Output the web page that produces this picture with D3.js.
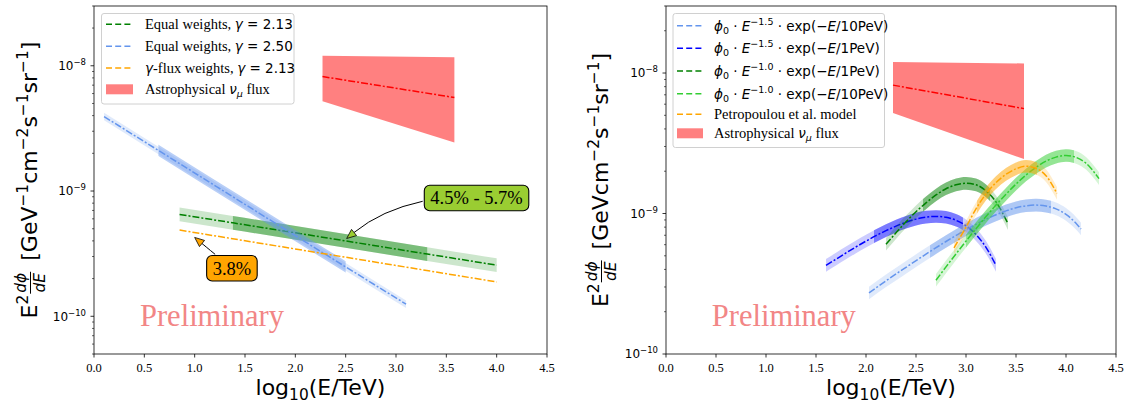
<!DOCTYPE html>
<html><head><meta charset="utf-8">
<script src="https://cdn.jsdelivr.net/npm/d3@7"></script>
<style>body{margin:0;background:#fff}svg{display:block}</style>
</head><body>
<svg id="c" width="1126" height="408"></svg>
<script>
// ---------------- DATA ----------------
const xTicks = [0, 0.5, 1, 1.5, 2, 2.5, 3, 3.5, 4, 4.5];
const xTickLabels = ["0.0","0.5","1.0","1.5","2.0","2.5","3.0","3.5","4.0","4.5"];
const yMajorTicks = [1e-10, 1e-9, 1e-8];
const yMajorLabels = ["\u221210", "\u22129", "\u22128"];
const leftYDomain = [5e-11, 3e-8];
const rightYDomain = [1e-10, 3e-8];

// Astrophysical numu flux band (both panels)
const astroX = [2.27, 3.58];
const astroUpper = [1.2e-8, 1.17e-8];
const astroLower = [5.2e-9, 2.44e-9];
const astroCentral = [8.2e-9, 5.58e-9];

// Left panel lines
const eqw213X = [0.85, 1.38, 3.31, 4.0];
const eqw213Y = [6.5e-10, 5.57e-10, 3.14e-10, 2.56e-10];
const eqw213Range = [1.38, 3.31];
const eqw213Err = 0.055;      // band half-width, decades
const eqw250X = [0.1, 0.64, 2.5, 3.1];
const eqw250Y = [3.93e-9, 2.11e-9, 2.48e-10, 1.25e-10];
const eqw250Range = [0.64, 2.5];
const eqw250Err = 0.03;
const eqw250ErrDark = 0.045;
const gfluxX = [0.85, 4.0];
const gfluxY = [4.88e-10, 1.88e-10];

// Right panel curves
const c15_10X = [2.03, 2.2, 2.4, 2.6, 2.8, 3.0, 3.2, 3.4, 3.5, 3.6, 3.7, 3.8, 3.9, 4.0, 4.1, 4.15];
const c15_10Y = [2.72e-10, 3.32e-10, 4.14e-10, 5.14e-10, 6.32e-10, 7.67e-10, 9.1e-10, 1.044e-9, 1.10e-9, 1.135e-9, 1.148e-9, 1.13e-9, 1.08e-9, 9.86e-10, 8.53e-10, 7.76e-10];
const c15_10Range = [2.64, 3.85];
const c15_1X = [1.6, 1.7, 1.8, 1.9, 2.0, 2.1, 2.2, 2.3, 2.4, 2.5, 2.6, 2.7, 2.8, 2.9, 3.0, 3.1, 3.2, 3.3];
const c15_1Y = [4.27e-10, 4.73e-10, 5.24e-10, 5.79e-10, 6.36e-10, 6.96e-10, 7.55e-10, 8.13e-10, 8.67e-10, 9.12e-10, 9.42e-10, 9.53e-10, 9.40e-10, 8.95e-10, 8.18e-10, 7.08e-10, 5.74e-10, 4.27e-10];
const c15_1Range = [2.08, 2.97];
const c10_1X = [2.2, 2.3, 2.4, 2.5, 2.6, 2.7, 2.8, 2.9, 3.0, 3.1, 3.2, 3.3, 3.42];
const c10_1Y = [6.04e-10, 7.3e-10, 8.73e-10, 1.03e-9, 1.19e-9, 1.355e-9, 1.5e-9, 1.6e-9, 1.64e-9, 1.6e-9, 1.45e-9, 1.21e-9, 8.47e-10];
const c10_1Range = [2.57, 3.24];
const c10_10X = [2.7, 2.8, 2.9, 3.0, 3.1, 3.2, 3.3, 3.4, 3.5, 3.6, 3.7, 3.8, 3.9, 4.0, 4.1, 4.2, 4.33];
const c10_10Y = [3.35e-10, 4.17e-10, 5.16e-10, 6.36e-10, 7.8e-10, 9.51e-10, 1.15e-9, 1.37e-9, 1.62e-9, 1.88e-9, 2.13e-9, 2.36e-9, 2.52e-9, 2.59e-9, 2.51e-9, 2.28e-9, 1.77e-9];
const c10_10Range = [3.0, 4.08];
const petroX = [2.88, 3.0, 3.1, 3.2, 3.3, 3.4, 3.5, 3.6, 3.7, 3.8, 3.91];
const petroY = [5.7e-10, 8.0e-10, 1.08e-9, 1.38e-9, 1.66e-9, 1.9e-9, 2.08e-9, 2.17e-9, 2.1e-9, 1.86e-9, 1.39e-9];
const petroRange = [3.11, 3.71];
const rightErr = 0.045;

// Annotations (left panel)
const annoText = ["4.5% - 5.7%", "3.8%"];
const annoBoxX = [3.80, 1.37];
const annoBoxY = [8.8e-10, 2.42e-10];
const annoTipX = [2.51, 1.00];
const annoTipY = [4.18e-10, 4.26e-10];

const prelimX = [0.457, 0.458];
const prelimY = [8.3e-11, 1.58e-10];

// ---------------- STYLE / LAYOUT ----------------
const SANS = "'DejaVu Sans', sans-serif";
const SERIF = "'Liberation Serif','Times New Roman',serif";
const svg = d3.select("#c");
const panelTop = 6, panelBottom = 354;
const L = {x0: 94, x1: 547};
const R = {x0: 666, x1: 1116};

function richText(parent, x, y, segs, base) {
  const t = parent.append("text").attr("x", x).attr("y", y)
    .attr("font-family", base.family || SANS).attr("font-size", base.size).attr("fill", base.fill || "#000");
  if (base.anchor) t.attr("text-anchor", base.anchor);
  let prev = 0;
  segs.forEach(s => {
    const sh = s.shift || 0;
    const ts = t.append("tspan").text(s.t).attr("dy", (prev - sh));
    prev = sh;
    if (s.size) ts.attr("font-size", s.size);
    if (s.italic) ts.attr("font-style", "italic");
    if (s.family) ts.attr("font-family", s.family);
  });
  return t;
}

function makePanel(P, yDomain) {
  const x = d3.scaleLinear().domain([0, 4.5]).range([P.x0, P.x1]);
  const y = d3.scaleLog().domain(yDomain).range([panelBottom, panelTop]);
  return {x, y};
}

function drawAxes(P, sc, yDomain) {
  const g = svg.append("g");
  xTicks.forEach((v, i) => {
    const px = sc.x(v);
    g.append("line").attr("x1", px).attr("x2", px).attr("y1", panelBottom).attr("y2", panelBottom + 3.5)
      .attr("stroke", "#000").attr("stroke-width", 0.8);
    g.append("text").attr("x", px).attr("y", 372).attr("text-anchor", "middle")
      .attr("font-family", SERIF).attr("font-size", 12.5).text(xTickLabels[i]);
  });
  const minors = [];
  for (let e = -11; e <= -8; e++) for (let k = 2; k <= 9; k++) {
    const v = k * Math.pow(10, e);
    if (v >= yDomain[0] * 0.999 && v <= yDomain[1] * 1.001) minors.push(v);
  }
  minors.forEach(v => {
    g.append("line").attr("x1", P.x0 - 2).attr("x2", P.x0).attr("y1", sc.y(v)).attr("y2", sc.y(v))
      .attr("stroke", "#000").attr("stroke-width", 0.6);
  });
  yMajorTicks.forEach((v, i) => {
    if (v < yDomain[0] * 0.999) return;
    const py = sc.y(v);
    g.append("line").attr("x1", P.x0 - 3.5).attr("x2", P.x0).attr("y1", py).attr("y2", py)
      .attr("stroke", "#000").attr("stroke-width", 0.8);
    richText(g, P.x0 - 8, py + 4.4, [{t: "10"}, {t: yMajorLabels[i], size: 8.5, shift: 5}], {size: 12, anchor: "end"});
  });
  svg.append("rect").attr("x", P.x0).attr("y", panelTop).attr("width", P.x1 - P.x0).attr("height", panelBottom - panelTop)
    .attr("fill", "none").attr("stroke", "#000").attr("stroke-width", 0.8);
  richText(svg, (P.x0 + P.x1) / 2, 395, [{t: "log"}, {t: "10", size: 15.4, shift: -5}, {t: "(E/TeV)"}], {size: 22, anchor: "middle"});
}

function drawYLabel(cx, cy, withGeVExp) {
  const g0 = svg.append("g").attr("transform", `translate(${cx},${cy}) rotate(-90)`);
  const g = g0.append("g");
  const p1 = richText(g, 0, 0, [{t: "E"}, {t: "2", size: 15.4, shift: 9}], {size: 22});
  let w = p1.node().getComputedTextLength() + 1;
  const num = g.append("text").attr("y", -11).attr("font-family", SANS).attr("font-size", 15.4)
    .attr("font-style", "italic").attr("text-anchor", "middle").text("d\u03D5");
  const den = g.append("text").attr("y", 8).attr("font-family", SANS).attr("font-size", 15.4)
    .attr("font-style", "italic").attr("text-anchor", "middle").text("dE");
  const fw = Math.max(num.node().getComputedTextLength(), den.node().getComputedTextLength()) + 2;
  num.attr("x", w + fw / 2); den.attr("x", w + fw / 2);
  g.append("line").attr("x1", w).attr("x2", w + fw).attr("y1", -6.5).attr("y2", -6.5).attr("stroke", "#000").attr("stroke-width", 1);
  w += fw + 11;
  const segs = [{t: "[GeV"}];
  if (withGeVExp) segs.push({t: "\u22121", size: 15.4, shift: 9});
  segs.push({t: "cm", shift: 0}, {t: "\u22122", size: 15.4, shift: 9}, {t: "s", shift: 0}, {t: "\u22121", size: 15.4, shift: 9},
    {t: "sr", shift: 0}, {t: "\u22121", size: 15.4, shift: 9}, {t: "]", shift: 0});
  const p3 = richText(g, w, 0, segs, {size: 22});
  w += p3.node().getComputedTextLength();
  g.attr("transform", `translate(${-w / 2},0)`);
}

function bandArea(sc, err) {
  return d3.area().x(d => sc.x(d[0])).y0(d => sc.y(d[1] * Math.pow(10, -err))).y1(d => sc.y(d[1] * Math.pow(10, err)))
    .curve(d3.curveMonotoneX);
}
function lineGen(sc) {
  return d3.line().x(d => sc.x(d[0])).y(d => sc.y(d[1])).curve(d3.curveMonotoneX);
}
let clipId = 0;
function clipFor(g, sc, range) {
  const id = "clip" + (clipId++);
  g.append("clipPath").attr("id", id).append("rect")
    .attr("x", sc.x(range[0])).attr("y", 0).attr("width", sc.x(range[1]) - sc.x(range[0])).attr("height", 408);
  return `url(#${id})`;
}
function drawSeries(g, sc, xs, ys, color, opts) {
  const pts = xs.map((v, i) => [v, ys[i]]);
  if (opts.err) {
    g.append("path").attr("d", bandArea(sc, opts.err)(pts)).attr("fill", color).attr("fill-opacity", 0.2);
    if (opts.range) {
      g.append("path").attr("d", bandArea(sc, opts.errDark || opts.err)(pts)).attr("fill", color)
        .attr("fill-opacity", opts.darkAlpha || 0.4).attr("clip-path", clipFor(g, sc, opts.range));
    }
  }
  g.append("path").attr("d", lineGen(sc)(pts)).attr("fill", "none").attr("stroke", color)
    .attr("stroke-width", 1.5).attr("stroke-dasharray", "7,2,2,2");
}
function drawAstro(g, sc) {
  const poly = [[astroX[0], astroUpper[0]], [astroX[1], astroUpper[1]], [astroX[1], astroLower[1]], [astroX[0], astroLower[0]]];
  g.append("path").attr("d", "M" + poly.map(p => [sc.x(p[0]), sc.y(p[1])].join(",")).join("L") + "Z").attr("fill", "#ff8080");
  g.append("line").attr("x1", sc.x(astroX[0])).attr("y1", sc.y(astroCentral[0])).attr("x2", sc.x(astroX[1])).attr("y2", sc.y(astroCentral[1]))
    .attr("stroke", "#ff0000").attr("stroke-width", 1.5).attr("stroke-dasharray", "7,2,2,2");
}
function drawPrelim(sc, i) {
  svg.append("text").attr("x", sc.x(prelimX[i])).attr("y", sc.y(prelimY[i])).attr("font-family", SERIF)
    .attr("font-size", 30.5).attr("fill", "#f28686").text("Preliminary");
}

function drawLegend(box, rows) {
  const g = svg.append("g");
  g.append("rect").attr("x", box.x).attr("y", box.y).attr("width", box.w).attr("height", box.h).attr("rx", 2.5)
    .attr("fill", "#fff").attr("fill-opacity", 0.85).attr("stroke", "#d0d0d0").attr("stroke-width", 1);
  rows.forEach(r => {
    if (r.patch) {
      g.append("rect").attr("x", box.lx0).attr("y", r.cy - 5).attr("width", box.lx1 - box.lx0).attr("height", 10).attr("fill", "#ff8080");
    } else {
      g.append("line").attr("x1", box.lx0).attr("x2", box.lx1).attr("y1", r.cy).attr("y2", r.cy)
        .attr("stroke", r.color).attr("stroke-width", 1.6).attr("stroke-dasharray", "6,3.2");
    }
    richText(g, box.tx, r.cy + 5, r.segs, {size: box.fs, family: SERIF});
  });
}

function drawAnnotations(sc) {
  const g = svg.append("g");
  const fills = ["#9acd32", "#ffa500"];
  const rads = [0.2, 0];
  annoText.forEach((txt, i) => {
    const cx = sc.x(annoBoxX[i]), cy = sc.y(annoBoxY[i]);
    const t = g.append("text").attr("x", cx).attr("y", cy + 6.3).attr("text-anchor", "middle")
      .attr("font-family", SERIF).attr("font-size", 18.5).text(txt);
    const tw = t.node().getComputedTextLength();
    const bw = tw + 12, bh = 25.5;
    const bx0 = cx - bw / 2, by0 = cy - bh / 2;
    const tx = sc.x(annoTipX[i]), ty = sc.y(annoTipY[i]);
    const mx = (cx + tx) / 2, my = (cy + ty) / 2, dx = tx - cx, dy = ty - cy;
    const ctrl = [mx - rads[i] * dy, my + rads[i] * dx];
    const pt = s => [(1 - s) * (1 - s) * cx + 2 * s * (1 - s) * ctrl[0] + s * s * tx, (1 - s) * (1 - s) * cy + 2 * s * (1 - s) * ctrl[1] + s * s * ty];
    let s0 = 0;
    for (let s = 0; s <= 1; s += 0.005) {
      const p = pt(s);
      if (p[0] < bx0 - 1 || p[0] > bx0 + bw + 1 || p[1] < by0 - 1 || p[1] > by0 + bh + 1) { s0 = s; break; }
    }
    const P0 = pt(s0);
    const c1 = [(1 - s0) * ctrl[0] + s0 * tx, (1 - s0) * ctrl[1] + s0 * ty];
    const ang = Math.atan2(ty - c1[1], tx - c1[0]);
    const hl = 9.5, hw = 4;
    const bxp = tx - hl * Math.cos(ang), byp = ty - hl * Math.sin(ang);
    g.append("path").attr("d", `M${P0[0]},${P0[1]} Q${c1[0]},${c1[1]} ${bxp},${byp}`).attr("fill", "none")
      .attr("stroke", "#000").attr("stroke-width", 1);
    const h1 = [bxp + hw * Math.sin(ang), byp - hw * Math.cos(ang)], h2 = [bxp - hw * Math.sin(ang), byp + hw * Math.cos(ang)];
    g.append("path").attr("d", `M${tx},${ty}L${h1}L${h2}Z`).attr("fill", fills[i]).attr("stroke", "#000").attr("stroke-width", 0.8);
    g.insert("rect", "text").attr("x", bx0).attr("y", by0).attr("width", bw).attr("height", bh).attr("rx", 5.5)
      .attr("fill", fills[i]).attr("stroke", "#000").attr("stroke-width", 1.1);
  });
}

// ---------------- LEFT PANEL ----------------
const sl = makePanel(L, leftYDomain);
const gl = svg.append("g");
drawAstro(gl, sl);
drawSeries(gl, sl, eqw213X, eqw213Y, "#008000", {err: eqw213Err, range: eqw213Range});
drawSeries(gl, sl, eqw250X, eqw250Y, "#6495ed", {err: eqw250Err, errDark: eqw250ErrDark, range: eqw250Range, darkAlpha: 0.45});
drawSeries(gl, sl, gfluxX, gfluxY, "#ffa500", {});
drawPrelim(sl, 0);
drawAxes(L, sl, leftYDomain);
drawYLabel(37, 180, true);
const gam = (v) => [{t: "\u03B3", family: SANS, italic: true, size: 13.5}, {t: " = " + v, family: SANS, size: 13.5}];
const nuSegs = [{t: "Astrophysical "}, {t: "\u03BD", family: SANS, italic: true, size: 13.5}, {t: "\u03BC", family: SANS, italic: true, size: 9.5, shift: -3}, {t: " flux", shift: 0}];
drawLegend({x: 101.5, y: 13.5, w: 192.5, h: 90.5, lx0: 106, lx1: 133, tx: 145, fs: 14.5}, [
  {cy: 24.3, color: "#008000", segs: [{t: "Equal weights, "}].concat(gam("2.13"))},
  {cy: 46.3, color: "#6495ed", segs: [{t: "Equal weights, "}].concat(gam("2.50"))},
  {cy: 68, color: "#ffa500", segs: [{t: "\u03B3", family: SANS, italic: true, size: 13.5}, {t: "-flux weights, "}].concat(gam("2.13"))},
  {cy: 89.3, patch: true, segs: nuSegs}
]);
drawAnnotations(sl);

// ---------------- RIGHT PANEL ----------------
const sr = makePanel(R, rightYDomain);
const gr = svg.append("g");
drawAstro(gr, sr);
drawSeries(gr, sr, c15_1X, c15_1Y, "#0000ff", {err: rightErr, range: c15_1Range});
drawSeries(gr, sr, c10_1X, c10_1Y, "#008000", {err: rightErr, range: c10_1Range});
drawSeries(gr, sr, c15_10X, c15_10Y, "#6495ed", {err: rightErr, range: c15_10Range});
drawSeries(gr, sr, c10_10X, c10_10Y, "#32cd32", {err: rightErr, range: c10_10Range});
drawSeries(gr, sr, petroX, petroY, "#ffa500", {err: rightErr, range: petroRange});
drawPrelim(sr, 1);
drawAxes(R, sr, rightYDomain);
drawYLabel(608, 180, false);
const mrow = (exp, cut) => [
  {t: "\u03D5", family: SANS, italic: true, size: 13.5}, {t: "0", family: SANS, size: 9.5, shift: -3},
  {t: " \u00B7 ", family: SANS, size: 13.5, shift: 0}, {t: "E", family: SANS, italic: true, size: 13.5},
  {t: "\u2212" + exp, family: SANS, size: 9.5, shift: 6}, {t: " \u00B7 exp(\u2212", family: SANS, size: 13.5, shift: 0},
  {t: "E", family: SANS, italic: true, size: 13.5}, {t: "/" + cut + ")", family: SANS, size: 13.5}];
drawLegend({x: 673, y: 13.5, w: 211.5, h: 134, lx0: 677, lx1: 703, tx: 714, fs: 14.5}, [
  {cy: 25.7, color: "#6495ed", segs: mrow("1.5", "10PeV")},
  {cy: 48.3, color: "#0000ff", segs: mrow("1.5", "1PeV")},
  {cy: 71, color: "#008000", segs: mrow("1.0", "1PeV")},
  {cy: 93.7, color: "#32cd32", segs: mrow("1.0", "10PeV")},
  {cy: 114.3, color: "#ffa500", segs: [{t: "Petropoulou et al. model"}]},
  {cy: 133.3, patch: true, segs: nuSegs}
]);
</script>
</body></html>
